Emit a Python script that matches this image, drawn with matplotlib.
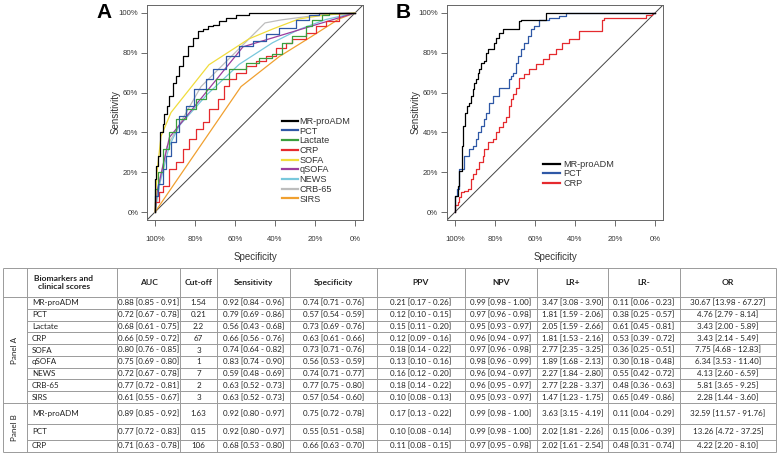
import matplotlib.pyplot as plt

plt.rcParams['font.family'] = ['Liberation Sans', 'DejaVu Sans']

# ROC curves as (specificity, sensitivity) points
# Panel A
mrproadm_a_spec = [1.0, .995, .987, .975, .962, .953, .942, .928, .912, .895, .879, .862, .837, .812, .787, .762, .737, .712, .679, .646, .596, .529, .463, 0.0]
mrproadm_a_sens = [0.0, .167, .233, .283, .40, .442, .492, .533, .583, .65, .683, .733, .783, .833, .875, .908, .917, .933, .942, .958, .975, .992, 1.0, 1.0]
pct_a_spec = [1.0, .987, .962, .945, .920, .895, .879, .845, .804, .745, .712, .646, .579, .512, .446, .379, .296, .230, .180, 0.0]
pct_a_sens = [0.0, .083, .142, .217, .283, .35, .40, .483, .533, .617, .667, .717, .783, .833, .858, .892, .925, .967, .992, 1.0]
lactate_a_spec = [1.0, .987, .962, .928, .895, .845, .795, .745, .696, .629, .546, .479, .413, .363, .313, .246, .213, .163, .130, 0.0]
lactate_a_sens = [0.0, .117, .20, .317, .40, .467, .517, .567, .617, .667, .717, .75, .775, .792, .85, .883, .933, .967, .992, 1.0]
crp_a_spec = [1.0, .978, .962, .928, .895, .862, .829, .795, .762, .729, .687, .654, .629, .596, .546, .496, .446, .396, .346, .313, .246, .196, .146, .08, 0.0]
crp_a_sens = [0.0, .05, .10, .133, .217, .25, .317, .367, .417, .45, .517, .567, .633, .667, .70, .733, .758, .783, .825, .85, .867, .90, .933, .958, 1.0]
sofa_a_spec = [1.0, .99, .97, .92, .73, .53, .41, .28, .15, 0.0]
sofa_a_sens = [0.0, .20, .38, .50, .74, .87, .92, .97, .99, 1.0]
qsofa_a_spec = [1.0, .99, .928, .56, 0.0]
qsofa_a_sens = [0.0, .10, .375, .83, 1.0]
news_a_spec = [1.0, .978, .962, .928, .879, .74, .579, .413, .28, .146, 0.0]
news_a_sens = [0.0, .133, .20, .333, .433, .59, .742, .85, .917, .967, 1.0]
crb65_a_spec = [1.0, .985, .94, .77, .60, .45, .37, .18, 0.0]
crb65_a_sens = [0.0, .12, .33, .63, .80, .95, .965, .99, 1.0]
sirs_a_spec = [1.0, .57, .38, .22, .08, 0.0]
sirs_a_sens = [0.0, .63, .78, .88, .97, 1.0]

# Panel B
mrproadm_b_spec = [1.0, .995, .987, .982, .975, .965, .958, .948, .942, .928, .920, .912, .904, .895, .887, .879, .870, .854, .845, .837, .829, .804, .795, .779, .762, .745, .679, .671, .546, .529, 0.0]
mrproadm_b_sens = [0.0, .083, .083, .133, .208, .208, .333, .433, .50, .533, .55, .583, .617, .65, .667, .70, .717, .75, .758, .80, .817, .817, .85, .875, .90, .917, .917, .958, .967, 1.0, 1.0]
pct_b_spec = [1.0, .992, .978, .953, .928, .912, .895, .887, .870, .854, .845, .829, .812, .804, .779, .762, .729, .721, .712, .696, .687, .671, .654, .637, .621, .604, .579, .529, .479, .446, .379, 0.0]
pct_b_sens = [0.0, .083, .117, .217, .283, .317, .333, .367, .40, .433, .467, .50, .55, .583, .583, .625, .625, .667, .683, .70, .75, .783, .817, .85, .883, .917, .933, .967, .975, .983, 1.0, 1.0]
crp_b_spec = [1.0, .987, .978, .970, .953, .937, .920, .912, .895, .879, .862, .854, .837, .812, .795, .779, .762, .745, .729, .720, .712, .696, .679, .654, .629, .596, .562, .529, .496, .463, .429, .379, .346, .263, .255, .047, .013, 0.0]
crp_b_sens = [0.0, .033, .05, .075, .10, .108, .117, .167, .192, .217, .25, .283, .317, .35, .367, .40, .425, .45, .475, .533, .567, .592, .625, .675, .692, .717, .742, .767, .792, .817, .85, .867, .908, .908, .967, .975, .992, 1.0]

tick_vals = [1.0, 0.8, 0.6, 0.4, 0.2, 0.0]
tick_labels = ['100%', '80%', '60%', '40%', '20%', '0%']

# Table
col_headers = ['Biomarkers and\nclinical scores', 'AUC', 'Cut-off', 'Sensitivity', 'Specificity',
               'PPV', 'NPV', 'LR+', 'LR-', 'OR']
markers_a = ['MR-proADM', 'PCT', 'Lactate', 'CRP', 'SOFA', 'qSOFA', 'NEWS', 'CRB-65', 'SIRS']
auc_a = ['0.88 [0.85 - 0.91]', '0.72 [0.67 - 0.78]', '0.68 [0.61 - 0.75]', '0.66 [0.59 - 0.72]',
         '0.80 [0.76 - 0.85]', '0.75 [0.69 - 0.80]', '0.72 [0.67 - 0.78]', '0.77 [0.72 - 0.81]',
         '0.61 [0.55 - 0.67]']
cutoff_a = ['1.54', '0.21', '2.2', '67', '3', '1', '7', '2', '3']
sens_a = ['0.92 [0.84 - 0.96]', '0.79 [0.69 - 0.86]', '0.56 [0.43 - 0.68]', '0.66 [0.56 - 0.76]',
          '0.74 [0.64 - 0.82]', '0.83 [0.74 - 0.90]', '0.59 [0.48 - 0.69]', '0.63 [0.52 - 0.73]',
          '0.63 [0.52 - 0.73]']
spec_a = ['0.74 [0.71 - 0.76]', '0.57 [0.54 - 0.59]', '0.73 [0.69 - 0.76]', '0.63 [0.61 - 0.66]',
          '0.73 [0.71 - 0.76]', '0.56 [0.53 - 0.59]', '0.74 [0.71 - 0.77]', '0.77 [0.75 - 0.80]',
          '0.57 [0.54 - 0.60]']
ppv_a = ['0.21 [0.17 - 0.26]', '0.12 [0.10 - 0.15]', '0.15 [0.11 - 0.20]', '0.12 [0.09 - 0.16]',
         '0.18 [0.14 - 0.22]', '0.13 [0.10 - 0.16]', '0.16 [0.12 - 0.20]', '0.18 [0.14 - 0.22]',
         '0.10 [0.08 - 0.13]']
npv_a = ['0.99 [0.98 - 1.00]', '0.97 [0.96 - 0.98]', '0.95 [0.93 - 0.97]', '0.96 [0.94 - 0.97]',
         '0.97 [0.96 - 0.98]', '0.98 [0.96 - 0.99]', '0.96 [0.94 - 0.97]', '0.96 [0.95 - 0.97]',
         '0.95 [0.93 - 0.97]']
lrp_a = ['3.47 [3.08 - 3.90]', '1.81 [1.59 - 2.06]', '2.05 [1.59 - 2.66]', '1.81 [1.53 - 2.16]',
         '2.77 [2.35 - 3.25]', '1.89 [1.68 - 2.13]', '2.27 [1.84 - 2.80]', '2.77 [2.28 - 3.37]',
         '1.47 [1.23 - 1.75]']
lrm_a = ['0.11 [0.06 - 0.23]', '0.38 [0.25 - 0.57]', '0.61 [0.45 - 0.81]', '0.53 [0.39 - 0.72]',
         '0.36 [0.25 - 0.51]', '0.30 [0.18 - 0.48]', '0.55 [0.42 - 0.72]', '0.48 [0.36 - 0.63]',
         '0.65 [0.49 - 0.86]']
or_a = ['30.67 [13.98 - 67.27]', '4.76 [2.79 - 8.14]', '3.43 [2.00 - 5.89]', '3.43 [2.14 - 5.49]',
        '7.75 [4.68 - 12.83]', '6.34 [3.53 - 11.40]', '4.13 [2.60 - 6.59]', '5.81 [3.65 - 9.25]',
        '2.28 [1.44 - 3.60]']
markers_b = ['MR-proADM', 'PCT', 'CRP']
auc_b = ['0.89 [0.85 - 0.92]', '0.77 [0.72 - 0.83]', '0.71 [0.63 - 0.78]']
cutoff_b = ['1.63', '0.15', '106']
sens_b = ['0.92 [0.80 - 0.97]', '0.92 [0.80 - 0.97]', '0.68 [0.53 - 0.80]']
spec_b = ['0.75 [0.72 - 0.78]', '0.55 [0.51 - 0.58]', '0.66 [0.63 - 0.70]']
ppv_b = ['0.17 [0.13 - 0.22]', '0.10 [0.08 - 0.14]', '0.11 [0.08 - 0.15]']
npv_b = ['0.99 [0.98 - 1.00]', '0.99 [0.98 - 1.00]', '0.97 [0.95 - 0.98]']
lrp_b = ['3.63 [3.15 - 4.19]', '2.02 [1.81 - 2.26]', '2.02 [1.61 - 2.54]']
lrm_b = ['0.11 [0.04 - 0.29]', '0.15 [0.06 - 0.39]', '0.48 [0.31 - 0.74]']
or_b = ['32.59 [11.57 - 91.76]', '13.26 [4.72 - 37.25]', '4.22 [2.20 - 8.10]']

W, H = 778, 453
fig = plt.figure(figsize=(W / 100, H / 100), dpi=100)
txt_col = '#333333'


def roc_axes(left_px):
    ax = fig.add_axes([left_px / W, 1 - 220 / H, 216 / W, 215 / H])
    ax.set_xlim(1.04, -0.04)
    ax.set_ylim(-0.04, 1.04)
    ax.plot([1.04, -0.04], [-0.04, 1.04], color='#444444', lw=0.7, zorder=1)
    ax.set_xticks(tick_vals)
    ax.set_xticklabels(tick_labels)
    ax.set_yticks(tick_vals[::-1])
    ax.set_yticklabels(tick_labels[::-1])
    ax.tick_params(axis='x', length=4.3, width=0.6, color='#555555', labelsize=5.6,
                   labelcolor=txt_col, pad=7.5)
    ax.tick_params(axis='y', length=4.3, width=0.6, color='#555555', labelsize=5.6,
                   labelcolor=txt_col, pad=2.0)
    for s in ax.spines.values():
        s.set_color('#666666')
        s.set_linewidth(0.7)
    ax.set_xlabel('Specificity', fontsize=7, color=txt_col)
    ax.set_ylabel('Sensitivity', fontsize=7, color=txt_col)
    ax.xaxis.set_label_coords(0.5, -0.15)
    ax.yaxis.set_label_coords(-0.122, 0.5)
    return ax


axA = roc_axes(147)
axA.plot(sirs_a_spec, sirs_a_sens, color='#f0a030', lw=0.9, label='SIRS', zorder=2)
axA.plot(crb65_a_spec, crb65_a_sens, color='#bdbdbd', lw=0.9, label='CRB-65', zorder=2)
axA.plot(news_a_spec, news_a_sens, color='#78c8dc', lw=0.9, label='NEWS', zorder=2)
axA.plot(qsofa_a_spec, qsofa_a_sens, color='#9b3d9e', lw=0.9, label='qSOFA', zorder=2)
axA.plot(sofa_a_spec, sofa_a_sens, color='#f0dc3c', lw=0.9, label='SOFA', zorder=2)
axA.plot(crp_a_spec, crp_a_sens, color='#e52a2e', lw=0.9, label='CRP', drawstyle='steps-pre', zorder=3)
axA.plot(lactate_a_spec, lactate_a_sens, color='#3a9e3e', lw=0.9, label='Lactate', drawstyle='steps-pre', zorder=3)
axA.plot(pct_a_spec, pct_a_sens, color='#2f58a6', lw=0.9, label='PCT', drawstyle='steps-pre', zorder=3)
axA.plot(mrproadm_a_spec, mrproadm_a_sens, color='black', lw=0.9, label='MR-proADM', drawstyle='steps-pre', zorder=4)
hA, lA = axA.get_legend_handles_labels()
order = ['MR-proADM', 'PCT', 'Lactate', 'CRP', 'SOFA', 'qSOFA', 'NEWS', 'CRB-65', 'SIRS']
hA = [hA[lA.index(n)] for n in order]
legA = axA.legend(hA, order, loc='upper left', bbox_to_anchor=(0.625, 0.48), frameon=False,
                  fontsize=6.6, handlelength=1.7, handletextpad=0.2, labelspacing=0.08,
                  borderpad=0, borderaxespad=0)
for t in legA.get_texts():
    t.set_color(txt_col)
for h in legA.legend_handles:
    h.set_linewidth(1.6)

axB = roc_axes(447)
axB.plot(crp_b_spec, crp_b_sens, color='#e52a2e', lw=0.9, label='CRP', drawstyle='steps-pre', zorder=3)
axB.plot(pct_b_spec, pct_b_sens, color='#2f58a6', lw=0.9, label='PCT', drawstyle='steps-pre', zorder=3)
axB.plot(mrproadm_b_spec, mrproadm_b_sens, color='black', lw=0.9, label='MR-proADM', drawstyle='steps-pre', zorder=4)
hB, lB = axB.get_legend_handles_labels()
legB = axB.legend(hB[::-1], lB[::-1], loc='upper left', bbox_to_anchor=(0.444, 0.28), frameon=False,
                  fontsize=6.6, handlelength=1.9, handletextpad=0.3, labelspacing=0.05,
                  borderpad=0, borderaxespad=0)
for t in legB.get_texts():
    t.set_color(txt_col)
for h in legB.legend_handles:
    h.set_linewidth(1.6)

fig.text(96 / W, 1 - 3 / H, 'A', fontsize=15, fontweight='bold', va='top')
fig.text(396 / W, 1 - 3 / H, 'B', fontsize=15, fontweight='bold', va='top')

# table, drawn in pixel coordinates
tb = fig.add_axes([0, 0, 1, 1])
tb.set_xlim(0, W)
tb.set_ylim(H, 0)
tb.axis('off')
cols = [3, 27, 117, 180, 217, 290, 377, 465, 537, 608, 680, 776]
top, head_bot = 268, 297
rows_a = [head_bot + i * 11.78 for i in range(len(markers_a) + 1)]
rows_b = [403, 424, 440, 452]
grid_col = '#9a9a9a'
tfont = dict(family=['Lato', 'DejaVu Sans'], fontsize=5.8, color='#222222')
hfont = dict(family=['Lato', 'DejaVu Sans'], fontsize=6.1, color='#222222', fontweight='bold')

tb.hlines([top, head_bot, rows_a[-1], rows_b[-1]], cols[0], cols[-1], color=grid_col, lw=0.7)
tb.hlines(rows_a[1:-1] + rows_b[1:-1], cols[1], cols[-1], color=grid_col, lw=0.7)
tb.vlines(cols, top, rows_b[-1], color=grid_col, lw=0.7)

for j, name in enumerate(col_headers):
    xc = 64 if j == 0 else (cols[j + 1] + cols[j + 2]) / 2
    tb.text(xc, (top + head_bot) / 2, name, ha='center', va='center', linespacing=1.25, **hfont)

cells_a = [auc_a, cutoff_a, sens_a, spec_a, ppv_a, npv_a, lrp_a, lrm_a, or_a]
cells_b = [auc_b, cutoff_b, sens_b, spec_b, ppv_b, npv_b, lrp_b, lrm_b, or_b]
for rows, names, cells in [(rows_a, markers_a, cells_a), (rows_b, markers_b, cells_b)]:
    for i, name in enumerate(names):
        yc = (rows[i] + rows[i + 1]) / 2
        tb.text(cols[1] + 5, yc, name, ha='left', va='center', **tfont)
        for j, col in enumerate(cells):
            tb.text((cols[j + 2] + cols[j + 3]) / 2, yc, col[i], ha='center', va='center', **tfont)

tb.text(15, (rows_a[0] + rows_a[-1]) / 2, 'Panel A', rotation=90, ha='center', va='center', **tfont)
tb.text(15, (rows_b[0] + rows_b[-1]) / 2, 'Panel B', rotation=90, ha='center', va='center', **tfont)

fig.savefig('out.png', dpi=100)
